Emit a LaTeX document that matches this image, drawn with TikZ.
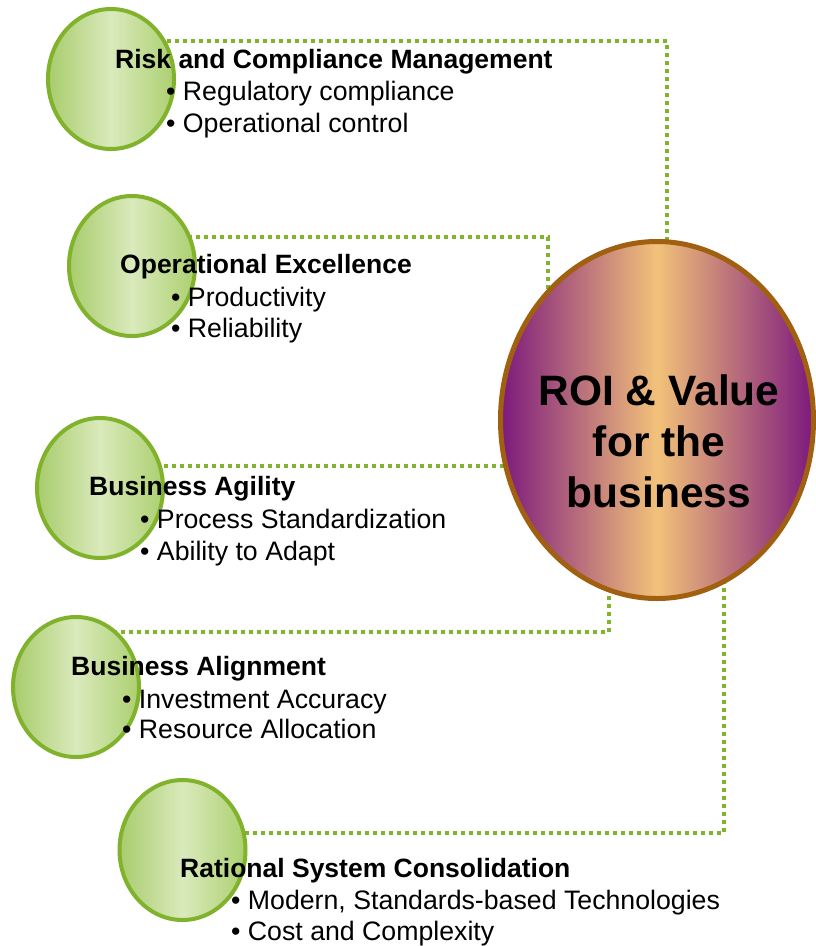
\documentclass[tikz,border=0pt]{standalone}
\usepackage{fontspec}
\setmainfont{Liberation Sans}
\usetikzlibrary{shapes.geometric,backgrounds}
\definecolor{gedge}{RGB}{128,178,44}
\definecolor{gleft}{RGB}{168,204,108}
\definecolor{gmid}{RGB}{218,234,188}
\definecolor{gright}{RGB}{172,208,112}
\definecolor{plum}{RGB}{125,25,125}
\definecolor{peach}{RGB}{242,194,122}
\definecolor{bronze}{RGB}{160,96,16}
\definecolor{dotgreen}{RGB}{128,180,44}
\begin{document}
\begin{tikzpicture}[x=1pt,y=-1pt,
  smallc/.style={ellipse, draw=gedge, line width=4pt, minimum width=126pt, minimum height=140pt, inner sep=0pt, left color=gleft, right color=gright, middle color=gmid},
  bigc/.style={ellipse, draw=bronze, line width=5pt, minimum width=313pt, minimum height=357pt, inner sep=0pt, left color=plum, right color=plum, middle color=peach},
  link/.style={draw=dotgreen, line width=4pt, dash pattern=on 4pt off 4pt},
  ttl/.style={anchor=base west, inner sep=0pt, font=\fontsize{26.5}{31}\selectfont\bfseries},
  bul/.style={anchor=base west, inner sep=0pt, font=\fontsize{26.7}{31}\selectfont},
  bigtext/.style={anchor=north, align=center, inner sep=0pt, font=\fontsize{42.5}{51}\selectfont\bfseries}]
\useasboundingbox (0,0) rectangle (815,946);

% circles
\node[smallc] (c1) at (111,79) {};
\node[smallc] (c2) at (132,266) {};
\node[smallc] (c3) at (100,488) {};
\node[smallc] (c4) at (76,687) {};
\node[smallc] (c5) at (182.5,850) {};
\node[bigc] (roi) at (657,420) {};
\node[bigtext] (roitext) at (659,374) {ROI \& Value\\for the\\business};

% junction coordinates
\coordinate (j1) at (667,41);
\coordinate (j2) at (548,237);
\coordinate (j3) at (500,466);
\coordinate (j4) at (609,632);
\coordinate (j5) at (724,833);

\begin{scope}[on background layer]
  \draw[link] (c1 |- j1) -- (j1) -- (j1 |- roi);
  \draw[link] (c2 |- j2) -- (j2) -- (j2 |- roi);
  \draw[link] (c3 |- j3) -- (roi |- j3);
  \draw[link] (j4 |- roi) -- (j4) -- (c4 |- j4);
  \draw[link] (j5 |- roi) -- (j5) -- (c5 |- j5);
\end{scope}

% texts
\node[ttl] (t1) at (115,68) {Risk and Compliance Management};
\node[bul] (b11) at (166,100) {• Regulatory compliance};
\node[bul] (b12) at (166,132) {• Operational control};

\node[ttl] (t2) at (120,273) {Operational Excellence};
\node[bul] (b21) at (171,306) {• Productivity};
\node[bul] (b22) at (171,337) {• Reliability};

\node[ttl] (t3) at (89,495) {Business Agility};
\node[bul] (b31) at (140,528) {• Process Standardization};
\node[bul] (b32) at (140,560) {• Ability to Adapt};

\node[ttl] (t4) at (71,675) {Business Alignment};
\node[bul] (b41) at (122,708) {• Investment Accuracy};
\node[bul] (b42) at (122,738) {• Resource Allocation};

\node[ttl] (t5) at (180,877) {Rational System Consolidation};
\node[bul] (b51) at (231,909) {• Modern, Standards-based Technologies};
\node[bul] (b52) at (231,940) {• Cost and Complexity};
\end{tikzpicture}
\end{document}
